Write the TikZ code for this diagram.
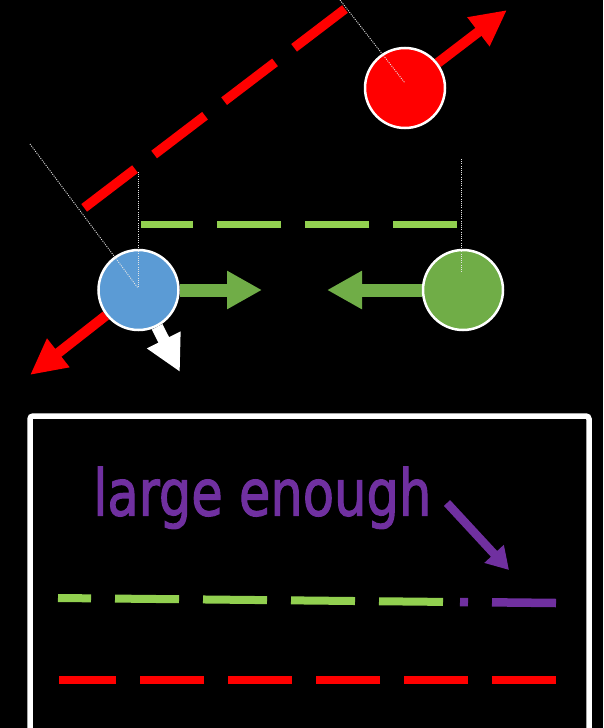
\documentclass[tikz,border=0pt]{standalone}
\usepackage{fontspec}
\usepackage{graphicx}
\newfontfamily\labelfont[FakeBold=2]{DejaVu Sans}
\usetikzlibrary{arrows.meta}
\definecolor{cred}{HTML}{FF0000}
\definecolor{lgreen}{HTML}{92D050}
\definecolor{dgreen}{HTML}{70AD47}
\definecolor{cblue}{HTML}{5B9BD5}
\definecolor{purp}{HTML}{7030A0}
\pgfdeclarelayer{back}
\pgfdeclarelayer{bg}
\pgfsetlayers{back,bg,main}
\tikzset{
  ball/.style={circle, draw=white, line width=2.5pt, minimum size=80pt, inner sep=0pt},
  redarrow/.style={draw=cred, line width=10pt, -{Triangle[length=36pt,width=34pt]}},
  greenarrow/.style={draw=dgreen, line width=13pt, -{Triangle[length=35pt,width=36pt]}},
  whitearrow/.style={draw=white, line width=12pt, -{Triangle[length=36pt,width=35pt]}},
  purparrow/.style={draw=purp, line width=8.5pt, -{Triangle[length=22pt,width=25pt]}},
  longdash/.style={dash pattern=on 64pt off 24pt},
  guide/.style={draw=white!90!black, line width=0.9pt, dash pattern=on 1pt off 1.2pt},
}
\begin{document}
\begin{tikzpicture}[x=1pt,y=-1pt]
\begin{pgfonlayer}{back}
\fill[black] (0,0) rectangle (603,728);
\end{pgfonlayer}
\useasboundingbox (0,0) rectangle (603,728);
\clip (0,0) rectangle (603,728);

% balls
\node[ball, fill=cred] (rc) at (405,88) {};
\node[ball, fill=cblue] (bc) at (138.5,290) {};
\node[ball, fill=dgreen] (gc) at (463,290) {};

% tips
\coordinate (rtip) at (507,10);
\coordinate (btip) at (30,375);
\coordinate (wtip) at (180,372);
\coordinate (grtip) at (262,290);
\coordinate (gltip) at (327,290);

\begin{pgfonlayer}{bg}
\draw[redarrow] (rc) -- (rtip);
\draw[redarrow] (bc) -- (btip);
\draw[whitearrow] (bc) -- (wtip);
\draw[greenarrow] (bc) -- (grtip);
\draw[greenarrow] (gc) -- (gltip);
\end{pgfonlayer}

% red dashed line (top)
\coordinate (rd1) at (345,9);
\coordinate (rd2) at (84,208);
\draw[cred, line width=9.5pt, longdash] (rd1) -- (rd2);

% green dashed line (top)
\coordinate (gd1) at (457,224.5);
\coordinate (gd2) at (141,224.5);
\draw[lgreen, line width=7pt, longdash] (gd1) -- (gd2);

% guide lines
\coordinate (g1a) at (340,0);
\coordinate (g1b) at (405,83);
\coordinate (g2a) at (30,144);
\coordinate (g2b) at (138,288);
\coordinate (g3a) at (138,172);
\coordinate (g4a) at (461,159);
\coordinate (g4b) at (461,272);
\draw[guide] (g1a) -- (g1b);
\draw[guide] (g2a) -- (g2b);
\draw[guide] (g3a) -- (g2b);
\draw[guide] (g4a) -- (g4b);

% box
\draw[white, line width=5.5pt, rounded corners=3pt] (30,740) -- (30,416) -- (589,416) -- (589,740);

% label
\node[anchor=base west, inner sep=0pt, text=purp] (lbl) at (93,515.5)
  {\resizebox*{338pt}{62pt}{\labelfont large enough}};

% purple arrow
\coordinate (pa1) at (447,503);
\coordinate (pa2) at (509,570);
\draw[purparrow] (pa1) -- (pa2);

% bottom green / purple dashed line
\coordinate (bg1) at (443,601.9);
\coordinate (bg2) at (58,598);
\draw[lgreen, line width=8pt, longdash] (bg1) -- (bg2);
\coordinate (bp1) at (556,603);
\coordinate (bp2) at (460,602);
\draw[purp, line width=8.5pt, longdash] (bp1) -- (bp2);

% bottom red dashed line
\coordinate (br1) at (556,680);
\coordinate (br2) at (59,680);
\draw[cred, line width=8pt, longdash] (br1) -- (br2);
\end{tikzpicture}
\end{document}
